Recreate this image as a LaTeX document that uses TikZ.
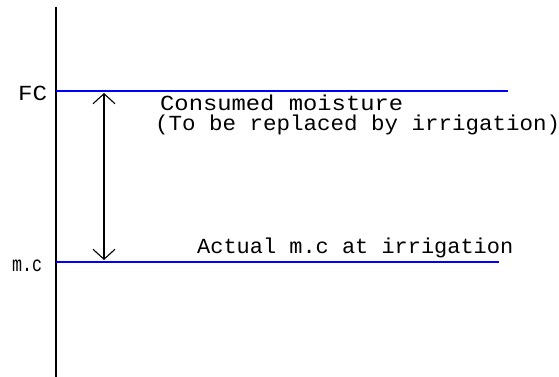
\documentclass[tikz,border=0pt]{standalone}
\usepackage{fontspec}
\usepackage{graphicx}
\usetikzlibrary{arrows.meta}
\newfontfamily\cadfont{Liberation Mono}
% stretch a label horizontally to a given width, keeping its height
\newcommand\cadtxt[2]{\resizebox{#1}{\height}{#2}}
\definecolor{levelblue}{RGB}{0,0,255}
\tikzset{
  axisline/.style={line width=1.5pt, black},
  levelline/.style={line width=1.5pt, levelblue},
  spanarrow/.style={line width=1.1pt, black,
    {Straight Barb[length=10pt,width=22pt,line width=1.1pt]}-{Straight Barb[length=10pt,width=22pt,line width=1.1pt]}},
  cadlabel/.style={inner sep=0pt, anchor=base west, font=\cadfont\fontsize{21.5}{21.5}\selectfont}
}
\begin{document}
\begin{tikzpicture}[x=1pt,y=-1pt]
  \useasboundingbox (0,0) rectangle (559,377);
  % vertical moisture axis
  \draw[axisline] (56,7) -- (56,377);
  % field capacity and actual moisture content levels
  \draw[levelline] (56,91) -- (508,91);
  \draw[levelline] (56,262) -- (499,262);
  % level names on the axis
  \node[cadlabel] (fc) at (18,101) {\cadtxt{29pt}{FC}};
  \node[cadlabel] (mc) at (12,271) {\cadtxt{30pt}{m.c}};
  % consumed moisture span
  \coordinate (top) at (104,93);
  \coordinate (bot) at (104,260);
  \draw[spanarrow] (top) -- (bot);
  \node[cadlabel] (cons) at (160,110.5) {\cadtxt{243pt}{Consumed moisture}};
  \node[cadlabel] (repl) at (155,130) {\cadtxt{405pt}{(To be replaced by irrigation)}};
  \node[cadlabel] (act) at (197,253) {\cadtxt{316pt}{Actual m.c at irrigation}};
\end{tikzpicture}
\end{document}
